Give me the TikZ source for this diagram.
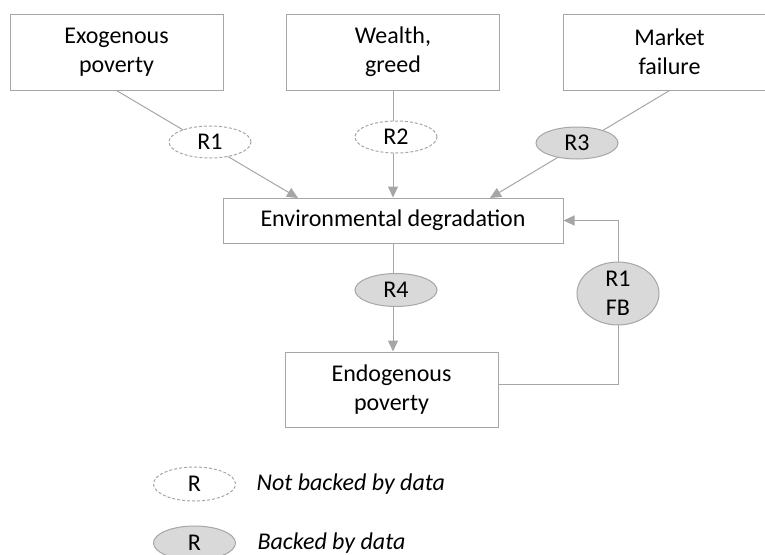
\documentclass[tikz,border=0pt]{standalone}
\usepackage{fontspec}
\setmainfont{Carlito}
\usetikzlibrary{shapes.geometric,arrows.meta,backgrounds}
\definecolor{lgray}{HTML}{A6A6A6}
\definecolor{fgray}{HTML}{D9D9D9}
\begin{document}
\begin{tikzpicture}[x=1pt,y=-1pt,
  every node/.style={font=\fontsize{24}{29}\selectfont, text=black},
  box/.style={rectangle, draw=lgray, line width=1pt, fill=white, align=center, minimum width=213pt, minimum height=76pt, inner sep=0pt},
  rel/.style={ellipse, draw=lgray, line width=1pt, minimum width=82pt, minimum height=32pt, inner sep=0pt, align=center},
  nb/.style={rel, fill=white, dash pattern=on 3pt off 2pt},
  bk/.style={rel, fill=fgray},
  conn/.style={draw=lgray, line width=1pt},
  arr/.style={conn, -{Triangle[length=11pt,width=10pt]}},
  legtext/.style={anchor=west, font=\fontsize{24}{29}\selectfont\itshape}
]
\useasboundingbox (0,0) rectangle (765,554);

% boxes
\node[box] (ex) at (116.5,52) {Exogenous\\poverty};
\node[box] (wg) at (393,52) {Wealth,\\greed};
\node[box] (mf) at (669.5,52) {Market\\failure};
\node[box, minimum width=340pt, minimum height=45pt] (env) at (393,220.5) {Environmental degradation};
\node[box, minimum height=75pt] (endo) at (391.5,389.5) {Endogenous\\poverty};

% relation ellipses
\node[nb] (r1) at (210,142) {R1};
\node[nb] (r2) at (396,137) {R2};
\node[bk] (r3) at (577,143) {R3};
\node[bk, minimum height=33pt] (r4) at (396,290) {R4};
\node[bk, minimum height=55pt] (fb) at (618,293.5) {R1\\FB};

% arrow targets on the top edge of env
\coordinate (t1) at (298,198);
\coordinate (t3) at (490,198);

\begin{scope}[on background layer]
  \draw[arr] (ex.south) -- (t1);
  \draw[arr] (wg.south) -- (env.north);
  \draw[arr] (mf.south) -- (t3);
  \draw[arr] (env.south) -- (env.south |- endo.north);
  \draw[conn] ([yshift=5pt]endo.east) -| (fb.south);
  \draw[arr] (fb.north) |- (env.east);
\end{scope}

% legend
\node[nb, minimum height=34pt] (lnb) at (194.5,484) {R};
\node[legtext] (lnbt) at (253,484) {Not backed by data};
\node[bk, minimum height=34pt] (lb) at (194.5,543) {R};
\node[legtext] (lbt) at (254,543) {Backed by data};
\end{tikzpicture}
\end{document}
